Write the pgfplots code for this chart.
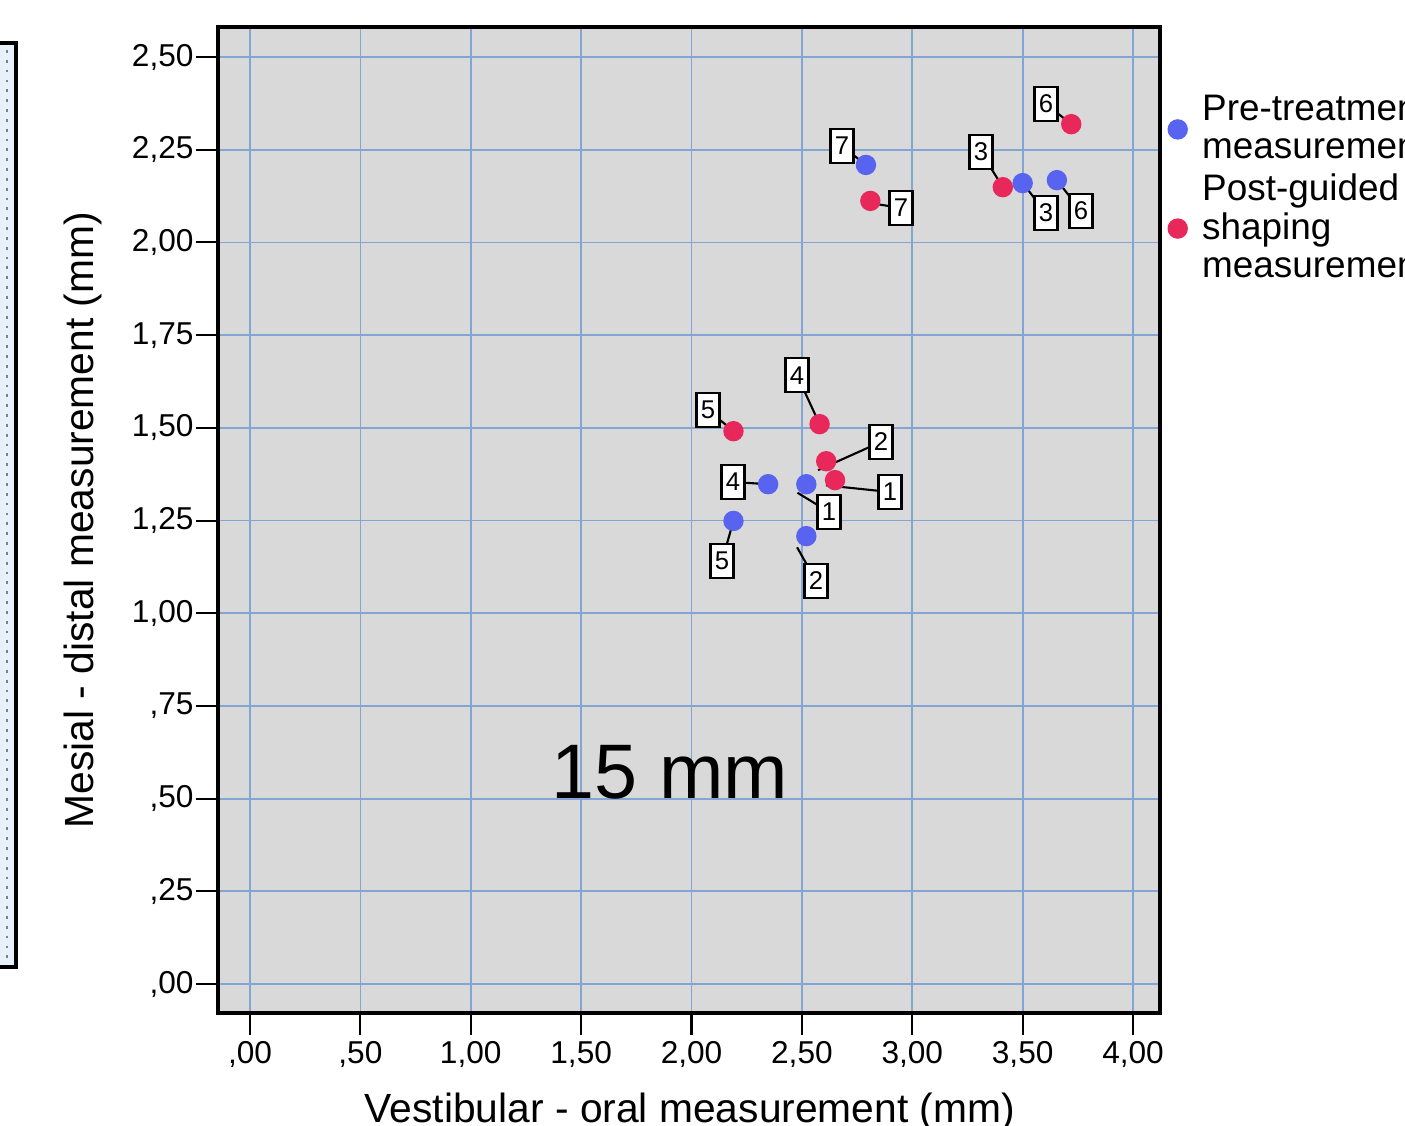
\documentclass[border=0pt]{standalone}
\usepackage{fontspec}
\setmainfont{Liberation Sans}
\usepackage{pgfplots}
\pgfplotsset{compat=1.18}
\definecolor{gridblue}{RGB}{130,165,212}
\definecolor{bgray}{RGB}{217,217,217}
\definecolor{ptblue}{RGB}{88,100,240}
\definecolor{ptred}{RGB}{232,40,90}
\definecolor{boxblue}{RGB}{232,240,250}
\tikzset{
  lbl/.style={draw, line width=0.7pt, fill=white, inner sep=0pt,
    minimum width=2.3mm, minimum height=3.4mm, font=\fontsize{7.3}{8}\selectfont},
  ldr/.style={black, line width=0.6pt},
}
\begin{document}
\begin{tikzpicture}
\path[use as bounding box] (0,0) rectangle (14.05,11.25);
\clip (0,0) rectangle (14.05,11.25);
% cut-off neighbouring panel at the left edge
\draw[line width=1.3pt, fill=boxblue] (-0.2,10.82) rectangle (0.16,1.58);
\draw[gray, dotted, line width=0.8pt] (0.07,10.75) -- (0.07,1.65);
\begin{axis}[
  at={(2.18cm,1.12cm)}, anchor=south west,
  scale only axis, width=9.42cm, height=9.86cm,
  xmin=-0.145, xmax=4.122, ymin=-0.078, ymax=2.581,
  axis background/.style={fill=bgray},
  axis line style={line width=1.4pt},
  tick align=outside, tick pos=left,
  major tick length=2.2mm,
  every tick/.style={black, line width=0.6pt},
  grid=major, major grid style={gridblue, line width=0.5pt},
  xtick={0,0.5,1,1.5,2,2.5,3,3.5,4},
  ytick={0,0.25,0.5,0.75,1,1.25,1.5,1.75,2,2.25,2.5},
  xticklabels={{,00},{,50},{1,00},{1,50},{2,00},{2,50},{3,00},{3,50},{4,00}},
  yticklabels={{,00},{,25},{,50},{,75},{1,00},{1,25},{1,50},{1,75},{2,00},{2,25},{2,50}},
  ticklabel style={font=\fontsize{9}{11}\selectfont},
  yticklabel style={inner sep=0.5pt},
  xticklabel style={inner sep=1.5pt},
  xlabel={Vestibular - oral measurement (mm)},
  ylabel={Mesial - distal measurement (mm)},
  label style={font=\fontsize{11.6}{14}\selectfont},
  xlabel style={at={(axis description cs:0.501,-0.100)}, anchor=center},
  ylabel style={at={(axis description cs:-0.143,0.5)}, anchor=center},
  legend style={at={(axis description cs:1.008,0.937)}, anchor=north west,
    draw=none, fill=none, font=\fontsize{10.5}{11}\selectfont,
    cells={align=left}, inner sep=0pt, row sep=0pt,
    nodes={inner xsep=1.5mm, inner ysep=1.4pt}},
  legend cell align=left,
]
% leader lines (point -> label box)
\draw[ldr] (axis cs:2.790,2.209) -- (axis cs:2.682,2.260);
\draw[ldr] (axis cs:3.500,2.160) -- (axis cs:3.606,2.079);
\draw[ldr] (axis cs:3.655,2.168) -- (axis cs:3.764,2.085);
\draw[ldr] (axis cs:2.347,1.348) -- (axis cs:2.188,1.354);
\draw[ldr] (axis cs:2.480,1.325) -- (axis cs:2.623,1.273);
\draw[ldr] (axis cs:2.190,1.249) -- (axis cs:2.138,1.141);
\draw[ldr] (axis cs:2.478,1.178) -- (axis cs:2.564,1.087);
\draw[ldr] (axis cs:3.720,2.319) -- (axis cs:3.606,2.373);
\draw[ldr] (axis cs:2.790,2.108) -- (axis cs:2.949,2.093);
\draw[ldr] (axis cs:3.410,2.149) -- (axis cs:3.311,2.244);
\draw[ldr] (axis cs:2.580,1.510) -- (axis cs:2.478,1.642);
\draw[ldr] (axis cs:2.190,1.491) -- (axis cs:2.075,1.548);
\draw[ldr] (axis cs:2.573,1.386) -- (axis cs:2.858,1.462);
\draw[ldr] (axis cs:2.609,1.345) -- (axis cs:2.899,1.327);

\addplot[only marks, mark=*, mark size=2.7pt, color=ptblue, mark options={draw=none, fill=ptblue}]
  coordinates {(2.790,2.209) (3.500,2.160) (3.655,2.168) (2.347,1.348) (2.520,1.348) (2.190,1.249) (2.520,1.208)};
\addlegendentry{Pre-treatment\\measurement}
\addplot[only marks, mark=*, mark size=2.7pt, color=ptred, mark options={draw=none, fill=ptred}]
  coordinates {(3.720,2.319) (2.810,2.112) (3.410,2.149) (2.580,1.510) (2.190,1.491) (2.610,1.410) (2.650,1.359)};
\addlegendentry{Post-guided\\shaping\\measurement}

% label boxes
\node[lbl] at (axis cs:2.682,2.260) {7};
\node[lbl] at (axis cs:3.606,2.079) {3};
\node[lbl] at (axis cs:3.764,2.085) {6};
\node[lbl] at (axis cs:2.188,1.354) {4};
\node[lbl] at (axis cs:2.623,1.273) {1};
\node[lbl] at (axis cs:2.138,1.141) {5};
\node[lbl] at (axis cs:2.564,1.087) {2};
\node[lbl] at (axis cs:3.606,2.373) {6};
\node[lbl] at (axis cs:2.949,2.093) {7};
\node[lbl] at (axis cs:3.311,2.244) {3};
\node[lbl] at (axis cs:2.478,1.642) {4};
\node[lbl] at (axis cs:2.075,1.548) {5};
\node[lbl] at (axis cs:2.858,1.462) {2};
\node[lbl] at (axis cs:2.899,1.327) {1};
\end{axis}
\node[font=\fontsize{22}{26}\selectfont] at (6.70,3.53) {15 mm};
\end{tikzpicture}
\end{document}
